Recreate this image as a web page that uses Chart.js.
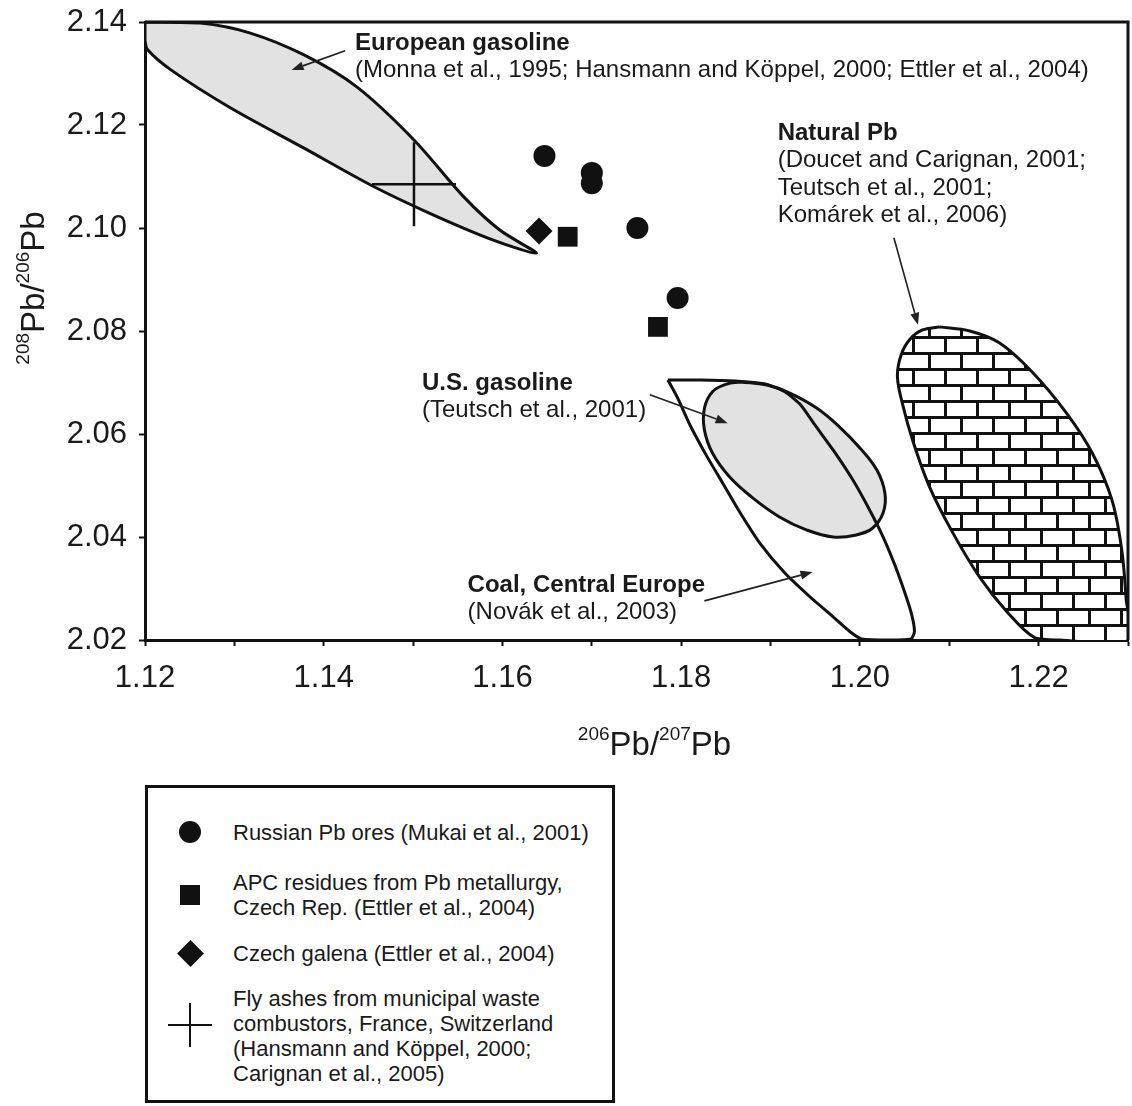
<!DOCTYPE html>
<html>
<head>
<meta charset="utf-8">
<script src="https://cdn.jsdelivr.net/npm/chart.js@4.4.0/dist/chart.umd.min.js"></script>
<style>
  body { margin: 0; background: #fff; font-family: "Liberation Sans", Arial, sans-serif; color: #1a1a1a; }
  #wrap { position: relative; width: 1132px; height: 1106px; overflow: hidden; }
  #chart { position: absolute; left: 0; top: 0; }
  #legend { position: absolute; left: 145px; top: 785px; width: 464px; height: 312px; border: 3px solid #111; }
  .row { position: absolute; left: 0; width: 100%; font-size: 22px; line-height: 25px; }
  .row .txt { position: absolute; left: 85px; top: 0; white-space: nowrap; }
  .mk { position: absolute; background: #111; }
</style>
</head>
<body>
<div id="wrap">
  <canvas id="chart" width="1132" height="770"></canvas>
  <div id="legend"></div>
</div>
<script>
// point groups
const oreX = [1.1647, 1.1700, 1.1700, 1.1751, 1.1796];
const oreY = [2.1140, 2.1107, 2.1087, 2.1000, 2.0864];
const apcX = [1.1673, 1.1774];
const apcY = [2.0983, 2.0808];
const galenaX = [1.1641];
const galenaY = [2.0994];
const ashX = [1.1501];
const ashY = [2.1085];

// field outlines (clockwise)
const euroX = [1.1200, 1.1262, 1.1317, 1.1378, 1.1437, 1.1501, 1.1557, 1.1597, 1.1638,
               1.1589, 1.1518, 1.1453, 1.1378, 1.1294, 1.1229, 1.1203, 1.1200];
const euroY = [2.1400, 2.1398, 2.1379, 2.1336, 2.1274, 2.1171, 2.1060, 2.0996, 2.0951,
               2.0977, 2.1029, 2.1083, 2.1155, 2.1235, 2.1307, 2.1346, 2.1365];
const usX = [1.1866, 1.1896, 1.1921, 1.1952, 1.1977, 1.2000, 1.2019, 1.2028, 1.2026, 1.2014, 1.1996,
             1.1970, 1.1940, 1.1910, 1.1880, 1.1854, 1.1835, 1.1826, 1.1826, 1.1835, 1.1851];
const usY = [2.0701, 2.0695, 2.0680, 2.0650, 2.0614, 2.0573, 2.0530, 2.0485, 2.0447, 2.0417, 2.0404,
             2.0400, 2.0414, 2.0439, 2.0476, 2.0517, 2.0563, 2.0608, 2.0650, 2.0682, 2.0697];
const coalX = [1.1785, 1.1821, 1.1860, 1.1894, 1.1916, 1.1934, 1.1949, 1.1970, 1.1992, 1.2011,
               1.2026, 1.2039, 1.2050, 1.2058, 1.2061, 1.2057, 1.2033, 1.2002, 1.1989, 1.1970,
               1.1944, 1.1916, 1.1888, 1.1866, 1.1847, 1.1828, 1.1810, 1.1796, 1.1787];
const coalY = [2.0705, 2.0705, 2.0703, 2.0697, 2.0682, 2.0656, 2.0619, 2.0569, 2.0511, 2.0452,
               2.0400, 2.0346, 2.0293, 2.0249, 2.0216, 2.0202, 2.0200, 2.0202, 2.0216, 2.0245,
               2.0284, 2.0330, 2.0388, 2.0447, 2.0503, 2.0559, 2.0617, 2.0670, 2.0699];
const natX = [1.2089, 1.2123, 1.2156, 1.2193, 1.2231, 1.2260, 1.2282, 1.2293, 1.2298, 1.2301, 1.2223,
              1.2196, 1.2164, 1.2134, 1.2104, 1.2078, 1.2059, 1.2048, 1.2042, 1.2046, 1.2056, 1.2070];
const natY = [2.0808, 2.0800, 2.0777, 2.0720, 2.0641, 2.0563, 2.0472, 2.0375, 2.0278, 2.0200, 2.0200,
              2.0204, 2.0256, 2.0322, 2.0408, 2.0497, 2.0588, 2.0656, 2.0711, 2.0753, 2.0784, 2.0802];

// axes
const xTickValues = [1.12, 1.13, 1.14, 1.15, 1.16, 1.17, 1.18, 1.19, 1.20, 1.21, 1.22, 1.23];
const xTickLabels = ['1.12', '', '1.14', '', '1.16', '', '1.18', '', '1.20', '', '1.22', ''];
const yTickValues = [2.02, 2.04, 2.06, 2.08, 2.10, 2.12, 2.14];
const yTickLabels = ['2.02', '2.04', '2.06', '2.08', '2.10', '2.12', '2.14'];
const xTitleParts = [['206', true], ['Pb/', false], ['207', true], ['Pb', false]];
const yTitleParts = [['208', true], ['Pb/', false], ['206', true], ['Pb', false]];

// annotations
const noteTitles = ['European gasoline', 'Natural Pb', 'U.S. gasoline', 'Coal, Central Europe'];
const noteRefs = [
  ['(Monna et al., 1995; Hansmann and Köppel, 2000; Ettler et al., 2004)'],
  ['(Doucet and Carignan, 2001;', 'Teutsch et al., 2001;', 'Komárek et al., 2006)'],
  ['(Teutsch et al., 2001)'],
  ['(Novák et al., 2003)']
];
const noteX = [1.1435, 1.1908, 1.1510, 1.1561];
const noteY = [2.1359, 2.1184, 2.0699, 2.0307];
const arrowFromX = [1.1424, 1.2038, 1.1765, 1.1826];
const arrowFromY = [2.1344, 2.0981, 2.0676, 2.0276];
const arrowToX = [1.1364, 1.2065, 1.1852, 1.1947];
const arrowToY = [2.1307, 2.0812, 2.0621, 2.0332];

const legendLabels = [
  ['Russian Pb ores (Mukai et al., 2001)'],
  ['APC residues from Pb metallurgy,', 'Czech Rep. (Ettler et al., 2004)'],
  ['Czech galena (Ettler et al., 2004)'],
  ['Fly ashes from municipal waste', 'combustors, France, Switzerland', '(Hansmann and Köppel, 2000;', 'Carignan et al., 2005)']
];

const FONT = '"Liberation Sans", Arial, sans-serif';
const INK = '#111';

const pts = (xs, ys) => xs.map((v, i) => ({x: v, y: ys[i]}));
const loop = (xs, ys) => { const p = pts(xs, ys); p.push(p[0]); return p; };

function brickPattern(ctx) {
  const c = document.createElement('canvas');
  c.width = 32; c.height = 32;
  const g = c.getContext('2d');
  g.fillStyle = '#fff'; g.fillRect(0, 0, 32, 32);
  g.fillStyle = INK;
  g.fillRect(0, 0, 32, 3);
  g.fillRect(0, 16, 32, 3);
  g.fillRect(0, 0, 3, 16);
  g.fillRect(16, 16, 3, 16);
  return ctx.createPattern(c, 'repeat');
}

function field(label, data, fillColor, tension) {
  return {
    label, data, showLine: true, tension: tension || 0.3,
    borderColor: INK, borderWidth: 3,
    backgroundColor: fillColor || 'rgba(0,0,0,0)',
    fill: fillColor ? 'shape' : false,
    pointRadius: 0, pointHoverRadius: 0
  };
}

function marker(label, data, style, radius, extra) {
  return Object.assign({
    label, data, pointStyle: style, pointRadius: radius, pointHoverRadius: radius,
    backgroundColor: INK, borderColor: INK, borderWidth: 0
  }, extra || {});
}

function drawSupText(ctx, parts, cx, base) {
  const big = '33px ' + FONT, small = '19px ' + FONT;
  let w = 0;
  parts.forEach(([t, s]) => { ctx.font = s ? small : big; w += ctx.measureText(t).width; });
  let x = cx - w / 2;
  ctx.textAlign = 'left';
  ctx.textBaseline = 'alphabetic';
  parts.forEach(([t, s]) => {
    ctx.font = s ? small : big;
    ctx.fillText(t, x, s ? base - 15 : base);
    x += ctx.measureText(t).width;
  });
}

const extras = {
  id: 'extras',
  afterDatasetsDraw(chart) {
    const {ctx, chartArea: a, scales: {x, y}} = chart;
    ctx.save();
    // closing frame on top and right
    ctx.strokeStyle = INK;
    ctx.lineWidth = 3;
    ctx.beginPath();
    ctx.moveTo(a.left, a.top);
    ctx.lineTo(a.right, a.top);
    ctx.lineTo(a.right, a.bottom);
    ctx.stroke();

    // arrows
    ctx.strokeStyle = '#222';
    ctx.fillStyle = '#222';
    ctx.lineWidth = 1.6;
    arrowFromX.forEach((fx, i) => {
      const x0 = x.getPixelForValue(fx), y0 = y.getPixelForValue(arrowFromY[i]);
      const x1 = x.getPixelForValue(arrowToX[i]), y1 = y.getPixelForValue(arrowToY[i]);
      const ang = Math.atan2(y1 - y0, x1 - x0);
      const hl = 12, hw = 4.5;
      const bx = x1 - hl * Math.cos(ang), by = y1 - hl * Math.sin(ang);
      ctx.beginPath();
      ctx.moveTo(x0, y0);
      ctx.lineTo(bx, by);
      ctx.stroke();
      ctx.beginPath();
      ctx.moveTo(x1, y1);
      ctx.lineTo(bx + hw * Math.sin(ang), by - hw * Math.cos(ang));
      ctx.lineTo(bx - hw * Math.sin(ang), by + hw * Math.cos(ang));
      ctx.closePath();
      ctx.fill();
    });

    // field labels
    ctx.fillStyle = '#1a1a1a';
    ctx.textAlign = 'left';
    ctx.textBaseline = 'middle';
    noteTitles.forEach((t, i) => {
      const px = x.getPixelForValue(noteX[i]), py = y.getPixelForValue(noteY[i]);
      ctx.font = 'bold 24px ' + FONT;
      ctx.fillText(t, px, py);
      ctx.font = '24px ' + FONT;
      noteRefs[i].forEach((line, j) => ctx.fillText(line, px, py + 27.5 * (j + 1)));
    });
    ctx.restore();
  },
  afterDraw(chart) {
    const {ctx, chartArea: a} = chart;
    ctx.save();
    ctx.fillStyle = '#1a1a1a';
    drawSupText(ctx, xTitleParts, (a.left + a.right) / 2 + 18, a.bottom + 115);
    ctx.translate(44, a.top + 266);
    ctx.rotate(-Math.PI / 2);
    drawSupText(ctx, yTitleParts, 0, 0);
    ctx.restore();
  }
};

const canvas = document.getElementById('chart');
const ctx = canvas.getContext('2d');

new Chart(ctx, {
  type: 'scatter',
  data: {
    datasets: [
      marker('Russian Pb ores (Mukai et al., 2001)', pts(oreX, oreY), 'circle', 11),
      marker('APC residues from Pb metallurgy, Czech Rep. (Ettler et al., 2004)', pts(apcX, apcY), 'rect', 14),
      marker('Czech galena (Ettler et al., 2004)', pts(galenaX, galenaY), 'rectRot', 13.5),
      marker('Fly ashes from municipal waste combustors', pts(ashX, ashY), 'cross', 42,
             {borderWidth: 2.5, backgroundColor: 'rgba(0,0,0,0)'}),
      field('Coal, Central Europe', loop(coalX, coalY), null, 0.2),
      field('U.S. gasoline', loop(usX, usY), '#e2e2e2', 0.4),
      field('European gasoline', loop(euroX, euroY), '#e2e2e2', 0.3),
      field('Natural Pb', loop(natX, natY), brickPattern(ctx), 0.35)
    ]
  },
  options: {
    responsive: false,
    animation: false,
    events: [],
    devicePixelRatio: 1,
    layout: { autoPadding: false, padding: { top: 22, right: 4, left: 0, bottom: 0 } },
    plugins: { legend: { display: false }, tooltip: { enabled: false } },
    scales: {
      x: {
        type: 'linear', min: 1.12, max: 1.23,
        afterBuildTicks: s => { s.ticks = xTickValues.map(v => ({value: v})); },
        afterFit: s => { s.height = 130; s.paddingLeft = 0; s.paddingRight = 0; },
        ticks: {
          autoSkip: false, maxRotation: 0, padding: 14,
          color: '#1a1a1a', font: { family: FONT, size: 31 },
          callback: (v, i) => xTickLabels[i]
        },
        grid: { drawOnChartArea: false, drawTicks: true, tickLength: 6, tickWidth: 2, color: INK },
        border: { display: true, width: 3, color: INK }
      },
      y: {
        type: 'linear', min: 2.02, max: 2.14,
        afterBuildTicks: s => { s.ticks = yTickValues.map(v => ({value: v})); },
        afterFit: s => { s.width = 145; s.paddingTop = 0; s.paddingBottom = 0; },
        ticks: {
          autoSkip: false, padding: 12,
          color: '#1a1a1a', font: { family: FONT, size: 31 },
          callback: (v, i) => yTickLabels[i]
        },
        grid: { drawOnChartArea: false, drawTicks: true, tickLength: 6, tickWidth: 2, color: INK },
        border: { display: true, width: 3, color: INK }
      }
    }
  },
  plugins: [extras]
});

// legend box below the plot
const legendStyles = ['circle', 'rect', 'rectRot', 'cross'];
const rowTops = [31.5, 81.5, 152.5, 197.5];
const legend = document.getElementById('legend');
legendLabels.forEach((lines, i) => {
  const row = document.createElement('div');
  row.className = 'row';
  row.style.top = rowTops[i] + 'px';
  row.style.height = (lines.length * 25) + 'px';
  const txt = document.createElement('div');
  txt.className = 'txt';
  txt.innerHTML = lines.join('<br>');
  row.appendChild(txt);
  const cy = legendStyles[i] === 'cross' ? 39.5 : lines.length * 12.5;
  const add = (w, h, css) => {
    const m = document.createElement('div');
    m.className = 'mk';
    m.style.width = w + 'px';
    m.style.height = h + 'px';
    m.style.left = (42 - w / 2) + 'px';
    m.style.top = (cy - h / 2) + 'px';
    Object.assign(m.style, css || {});
    row.appendChild(m);
  };
  if (legendStyles[i] === 'circle') add(22, 22, {borderRadius: '50%'});
  if (legendStyles[i] === 'rect') add(20, 20);
  if (legendStyles[i] === 'rectRot') add(19, 19, {transform: 'rotate(45deg)'});
  if (legendStyles[i] === 'cross') { add(44, 2.5); add(2.5, 44); }
  legend.appendChild(row);
});
</script>
</body>
</html>
